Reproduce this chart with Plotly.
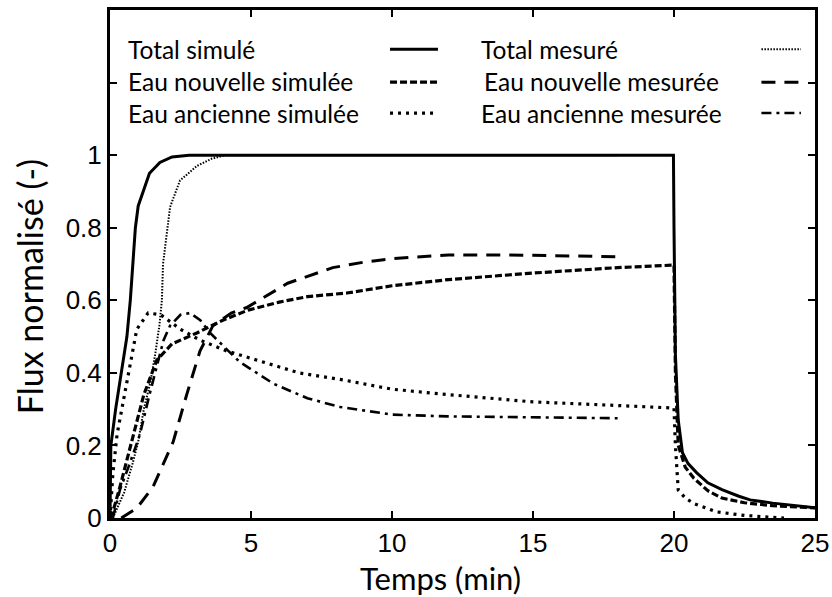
import plotly.graph_objects as go

# ---------------- data ----------------
t_tot_sim = [0, 0.03, 0.2, 0.4, 0.6, 0.72, 0.8, 0.9, 1.0, 1.17, 1.4, 1.77, 2.2, 2.8, 5, 10, 15, 19.98,
             20.0, 20.05, 20.15, 20.3, 20.5, 20.8, 21.2, 21.7, 22.3, 22.7, 23.5, 24.2, 25]
y_tot_sim = [0, 0.2, 0.3, 0.4, 0.5, 0.6, 0.7, 0.8, 0.86, 0.9, 0.95, 0.98, 0.995, 1.0, 1.0, 1.0, 1.0, 1.0,
             0.8, 0.45, 0.27, 0.18, 0.15, 0.125, 0.097, 0.078, 0.06, 0.05, 0.041, 0.034, 0.028]

t_tot_mes = [0.1, 0.5, 0.8, 1.0, 1.2, 1.42, 1.6, 1.75, 1.84, 1.88, 2.13, 2.48, 3.08, 3.6, 4.1, 6, 10, 14, 18]
y_tot_mes = [0, 0.07, 0.15, 0.21, 0.3, 0.37, 0.45, 0.53, 0.6, 0.7, 0.857, 0.93, 0.97, 0.99, 1.0, 1.0, 1.0, 1.0, 1.0]

t_new_sim = [0, 0.15, 0.35, 0.6, 0.82, 1.2, 1.66, 2.2, 3.08, 4.0, 4.9, 6, 7, 8.4, 10, 12, 15, 18, 20,
             20.05, 20.15, 20.4, 20.7, 21.2, 21.7, 22.5, 23.5, 25]
y_new_sim = [0, 0.03, 0.085, 0.16, 0.234, 0.34, 0.435, 0.48, 0.51, 0.545, 0.573, 0.595, 0.61, 0.62, 0.64,
             0.657, 0.675, 0.69, 0.697, 0.4, 0.2, 0.14, 0.11, 0.075, 0.055, 0.042, 0.034, 0.028]

t_old_sim = [0, 0.1, 0.25, 0.6, 0.8, 0.95, 1.35, 1.8, 2.5, 3.2, 4.15, 5, 6.7, 8.3, 10, 12, 15, 18, 20,
             20.05, 20.15, 20.4, 20.7, 21.5, 22.5, 23.9]
y_old_sim = [0, 0.12, 0.23, 0.37, 0.46, 0.52, 0.565, 0.56, 0.52, 0.49, 0.46, 0.44, 0.40, 0.38, 0.355,
             0.34, 0.32, 0.31, 0.303, 0.2, 0.077, 0.055, 0.04, 0.017, 0.007, 0]

t_new_mes = [0.4, 0.95, 1.52, 2.24, 2.72, 3.19, 3.65, 4.3, 4.85, 5.5, 6.3, 7.9, 9, 10, 12, 14, 16, 18]
y_new_mes = [0, 0.027, 0.085, 0.21, 0.34, 0.46, 0.53, 0.565, 0.58, 0.61, 0.647, 0.69, 0.705, 0.715,
             0.725, 0.725, 0.722, 0.72]

t_old_mes = [0.1, 0.35, 0.7, 1.06, 1.4, 1.66, 1.9, 2.13, 2.5, 2.84, 3.2, 3.55, 4.6, 5.8, 7, 8.16, 10, 12, 15, 18]
y_old_mes = [0, 0.077, 0.15, 0.23, 0.34, 0.42, 0.49, 0.53, 0.56, 0.565, 0.545, 0.51, 0.43, 0.37, 0.33,
             0.306, 0.285, 0.28, 0.277, 0.275]

x_ticks = [0, 5, 10, 15, 20, 25]
y_ticks = [0, 0.2, 0.4, 0.6, 0.8, 1.0, 1.2]
y_ticktext = ["0", "0.2", "0.4", "0.6", "0.8", "1", ""]

x_title = "Temps (min)"
y_title = "Flux normalisé (-)"

names = ["Total simulé", "Eau nouvelle simulée", "Eau ancienne simulée",
         "Total mesuré", "Eau nouvelle mesurée", "Eau ancienne mesurée"]

# ---------------- styles ----------------
styles = {
    "Total simulé": dict(width=3, dash="solid"),
    "Eau nouvelle simulée": dict(width=3.2, dash="7px,3px"),
    "Eau ancienne simulée": dict(width=3.2, dash="3px,5px"),
    "Total mesuré": dict(width=2, dash="1.5px,1.5px"),
    "Eau nouvelle mesurée": dict(width=3, dash="14px,9px"),
    "Eau ancienne mesurée": dict(width=2.6, dash="10px,5px,3px,5px"),
}
series = {
    "Total simulé": (t_tot_sim, y_tot_sim),
    "Eau nouvelle simulée": (t_new_sim, y_new_sim),
    "Eau ancienne simulée": (t_old_sim, y_old_sim),
    "Total mesuré": (t_tot_mes, y_tot_mes),
    "Eau nouvelle mesurée": (t_new_mes, y_new_mes),
    "Eau ancienne mesurée": (t_old_mes, y_old_mes),
}

fig = go.Figure()
for n in names:
    x, y = series[n]
    st = styles[n]
    fig.add_trace(go.Scatter(x=x, y=y, mode="lines", name=n, showlegend=False,
                             line=dict(color="black", width=st["width"], dash=st["dash"])))

# ---------------- custom legend (text left, sample right) ----------------
leg_rows = [1.292, 1.202, 1.115]
leg_cols = [
    dict(text_x=0.55, s0=9.93, s1=11.63, items=names[:3], dx=[0, 0, 0]),
    dict(text_x=13.1, s0=23.1, s1=24.5, items=names[3:], dx=[0, 0.1, 0]),
]
sample_rows = [1.292, 1.201, 1.116]
legend_font = dict(family="Lato, sans-serif", size=24.5, color="black")
for col in leg_cols:
    for yrow, ys, dx, n in zip(leg_rows, sample_rows, col["dx"], col["items"]):
        fig.add_annotation(x=col["text_x"] + dx, y=yrow, xref="x", yref="y", text=n, showarrow=False,
                           xanchor="left", yanchor="middle", font=legend_font)
        st = styles[n]
        fig.add_shape(type="line", xref="x", yref="y", x0=col["s0"], x1=col["s1"], y0=ys, y1=ys,
                      line=dict(color="black", width=st["width"], dash=st["dash"]))

# ---------------- axis titles (placed as in the reference, off-centre) ----------------
fig.add_annotation(x=0.469, y=-0.118, xref="paper", yref="paper", text=x_title, showarrow=False,
                   xanchor="center", yanchor="middle",
                   font=dict(family="Lato, sans-serif", size=31, color="black"))
fig.add_annotation(x=-0.113, y=0.455, xref="paper", yref="paper", text=y_title, showarrow=False,
                   textangle=-90, xanchor="center", yanchor="middle",
                   font=dict(family="Lato, sans-serif", size=34, color="black"))

axis_common = dict(showgrid=False, zeroline=False, showline=True, linecolor="black", linewidth=3,
                   mirror="ticks", ticks="inside", ticklen=7, tickwidth=2, tickcolor="black",
                   automargin=False,
                   tickfont=dict(family="Liberation Sans", size=26, color="black"))

fig.update_xaxes(range=[0, 25], tickvals=x_ticks, **axis_common)
fig.update_yaxes(range=[0, 1.4], tickvals=y_ticks, ticktext=y_ticktext, **axis_common)

fig.update_layout(width=832, height=597, autosize=False,
                  margin=dict(l=110, r=17, t=10, b=79),
                  plot_bgcolor="white", paper_bgcolor="white")

# remove the browser's default 8px body margin so the figure fills the window exactly
fig.write_html("out.html", config={"displayModeBar": False},
               post_script="document.body.style.margin='0';document.body.style.overflow='hidden';")
